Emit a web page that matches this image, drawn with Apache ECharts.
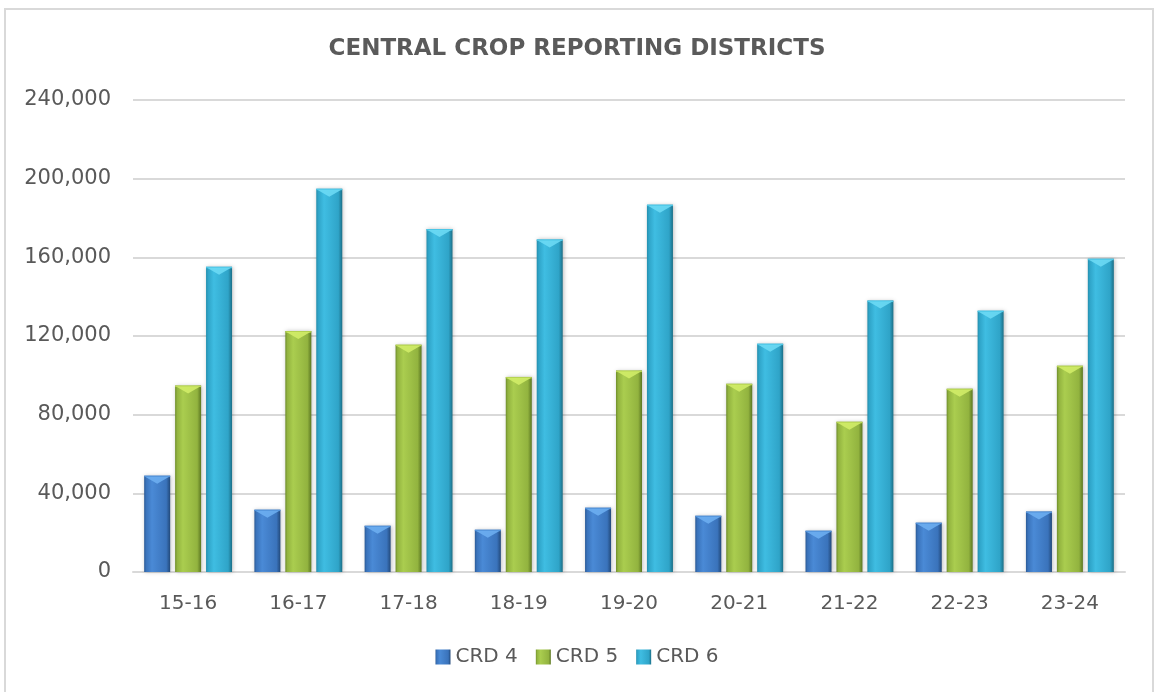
<!DOCTYPE html>
<html>
<head>
<meta charset="utf-8">
<script src="https://cdn.jsdelivr.net/npm/echarts@6/dist/echarts.min.js"></script>
<style>
html,body{margin:0;padding:0;background:#fff;}
#chart{width:1154px;height:692px;}
</style>
</head>
<body>
<div id="chart"></div>
<script>
const categories = ['15-16','16-17','17-18','18-19','19-20','20-21','21-22','22-23','23-24'];
const crd4 = [49000, 31700, 23500, 21500, 32700, 28600, 21000, 25100, 30700];
const crd5 = [94800, 122500, 115600, 99200, 102400, 95700, 76400, 93200, 104900];
const crd6 = [155200, 194900, 174400, 169100, 186800, 116100, 138000, 132900, 159300];
const seriesNames = ['CRD 4', 'CRD 5', 'CRD 6'];
const yTicks = [0, 40000, 80000, 120000, 160000, 200000, 240000];

const FONT = 'DejaVu Sans';
const TXT = '#595959';
const BAR_W = 26;
const GAP_PCT = 0.19;

function grad(dark, light, mid, darkR) {
  return new echarts.graphic.LinearGradient(0, 0, 1, 0, [
    {offset: 0, color: dark},
    {offset: 0.08, color: mid},
    {offset: 0.3, color: light},
    {offset: 0.85, color: mid},
    {offset: 1, color: darkR}
  ]);
}
const colors = [
  grad('#2b5a96', '#4a8ad6', '#3a73bb', '#22497a'),
  grad('#6f8e2b', '#aacd4f', '#92b33f', '#5c7722'),
  grad('#238fae', '#3fbde2', '#2fa4c8', '#1b6f87')
];
const bevel = ['#6fb0f2', '#d4ee6a', '#6fdcf6'];
const bevelEdge = ['#4f8fd8', '#b6d452', '#4cc6e6'];

const chart = echarts.init(document.getElementById('chart'), null, {renderer: 'canvas'});
const dataSets = [crd4, crd5, crd6];

const barSeries = seriesNames.map((n, i) => ({
  name: n,
  type: 'bar',
  data: dataSets[i],
  barWidth: BAR_W,
  barGap: (GAP_PCT * 100) + '%',
  itemStyle: {
    color: colors[i],
    shadowColor: 'rgba(0,0,0,0.25)',
    shadowBlur: 4,
    shadowOffsetX: 1,
    shadowOffsetY: 0
  }
}));

const bevelSeries = seriesNames.map((n, i) => ({
  type: 'custom',
  z: 5,
  silent: true,
  data: dataSets[i].map((v, k) => [k, v]),
  renderItem: function (params, api) {
    const p = api.coord([api.value(0), api.value(1)]);
    const step = BAR_W * (1 + GAP_PCT);
    const cx = p[0] + (i - 1) * step;
    const x0 = cx - BAR_W / 2, x1 = cx + BAR_W / 2, y = p[1];
    const d = 8;
    return {
      type: 'group',
      children: [
        {type: 'rect', shape: {x: x0, y: y, width: BAR_W, height: 1.5}, style: {fill: bevelEdge[i]}},
        {type: 'polygon', shape: {points: [[x0 + 1, y + 1], [x1 - 1, y + 1], [cx, y + d]]},
         style: {fill: bevel[i], opacity: 0.85}}
      ]
    };
  }
}));

chart.setOption({
  animation: false,
  backgroundColor: '#fff',
  title: {
    text: 'CENTRAL CROP REPORTING DISTRICTS',
    left: 'center',
    top: 33,
    textStyle: {fontFamily: FONT, fontSize: 23, fontWeight: 'bold', color: '#5a5a5a'}
  },
  graphic: [{
    type: 'rect',
    shape: {x: 5, y: 9, width: 1148, height: 700},
    style: {fill: 'none', stroke: '#d9d9d9', lineWidth: 2},
    silent: true
  }],
  legend: {
    data: seriesNames,
    bottom: 20,
    left: 'center',
    itemWidth: 15,
    itemHeight: 15,
    itemGap: 18,
    icon: 'rect',
    textStyle: {fontFamily: FONT, fontSize: 20, color: TXT}
  },
  grid: {left: 133, right: 29, top: 100, bottom: 120, containLabel: false},
  xAxis: {
    type: 'category',
    data: categories,
    axisLine: {lineStyle: {color: '#d9d9d9', width: 2}},
    axisTick: {show: false},
    axisLabel: {fontFamily: FONT, fontSize: 20, color: TXT, margin: 22}
  },
  yAxis: {
    type: 'value',
    min: yTicks[0],
    max: yTicks[yTicks.length - 1],
    interval: yTicks[1] - yTicks[0],
    axisLine: {show: false},
    axisTick: {show: false},
    splitLine: {lineStyle: {color: '#d9d9d9', width: 2}},
    axisLabel: {
      fontFamily: FONT, fontSize: 21, color: TXT, margin: 22,
      formatter: v => v.toLocaleString('en-US')
    }
  },
  series: barSeries.concat(bevelSeries)
});
</script>
</body>
</html>
